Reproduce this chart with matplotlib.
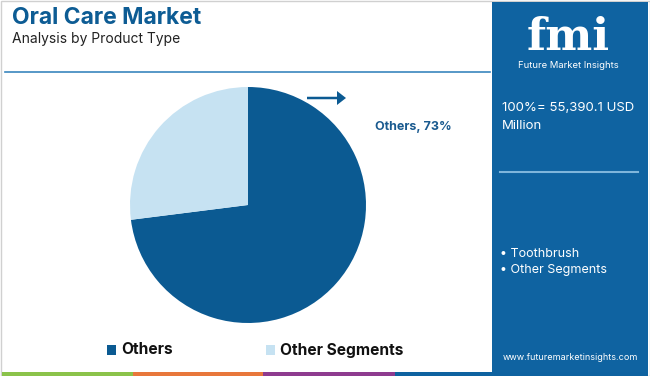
import matplotlib.pyplot as plt
from matplotlib.patches import Rectangle, FancyArrow

plt.rcParams['font.family'] = ['Inter', 'DejaVu Sans']

segments = ["Others", "Other Segments"]
shares = [73, 27]
colors = ["#0b5a92", "#c6e2f2"]
panel_items = ["Toothbrush", "Other Segments"]
total_text = "100%= 55,390.1 USD\nMillion"

W, H = 650, 376
fig = plt.figure(figsize=(W / 100, H / 100), dpi=100)

# background overlay axes in pixel coords
bg = fig.add_axes([0, 0, 1, 1])
bg.set_xlim(0, W)
bg.set_ylim(H, 0)
bg.axis("off")

bg.add_patch(Rectangle((0.5, 0.5), W - 1, H - 1, fill=False, ec="#d0d0d0", lw=1))
bg.plot([5, 490], [72, 72], color="#3a86bd", lw=1.2)

# bottom stripes
for x0, x1, c in [(2, 133, "#8bc34a"), (133, 263, "#e8773b"), (263, 395, "#8e3b8f"), (395, 648, "#0e62a0")]:
    bg.add_patch(Rectangle((x0, 372), x1 - x0, 4, color=c, lw=0))

# right panel
bg.add_patch(Rectangle((492, 2), 156, 370, color="#0f63a1", lw=0))

bg.text(12, 18, "Oral Care Market", fontsize=16.5, fontweight="bold", color="#0d5c94", va="center")
bg.text(12, 39, "Analysis by Product Type", fontsize=10, color="#222222", va="center")

bg.text(568, 50, "fmi", fontsize=32, fontweight="bold", family="DejaVu Serif",
        color="white", ha="center", va="baseline")
bg.text(568, 65, "Future Market Insights", fontsize=6.8, color="white", ha="center", va="center")
bg.text(502, 117, total_text, fontsize=9.5, color="white", va="center", linespacing=1.7)
bg.plot([500, 638], [172, 172], color="#7fb6dc", lw=1.5)
bg.text(500, 262, "\n".join("• " + s for s in panel_items), fontsize=9, color="white",
        va="center", linespacing=1.5)
bg.text(570, 358, "www.futuremarketinsights.com", fontsize=6.5, color="white", ha="center", va="center")

# arrow and label
bg.add_patch(FancyArrow(307, 98, 30, 0, width=2.5, head_width=14, head_length=9,
                        color="#0b5a92", lw=0))
bg.text(375, 127, f"{segments[0]}, {shares[0]}%", fontsize=9, fontweight="bold",
        color="#1a5a8f", va="center")

# legend
lx = [107, 266]
for x, name, c in zip(lx, segments, colors):
    bg.add_patch(Rectangle((x, 345), 9, 10, color=c, lw=0))
    bg.text(x + 14, 350, name, fontsize=11.2, fontweight="bold", color="#111111", va="center")

# pie
r = 118
cx, cy = 248, 205
ax = fig.add_axes([(cx - r) / W, 1 - (cy + r) / H, 2 * r / W, 2 * r / H])
ax.pie(shares, colors=colors, startangle=90, counterclock=False,
       wedgeprops=dict(linewidth=0))
ax.set_aspect("auto")
ax.set_xlim(-1, 1)
ax.set_ylim(-1, 1)
ax.axis("off")

fig.savefig("out.png", dpi=100)
